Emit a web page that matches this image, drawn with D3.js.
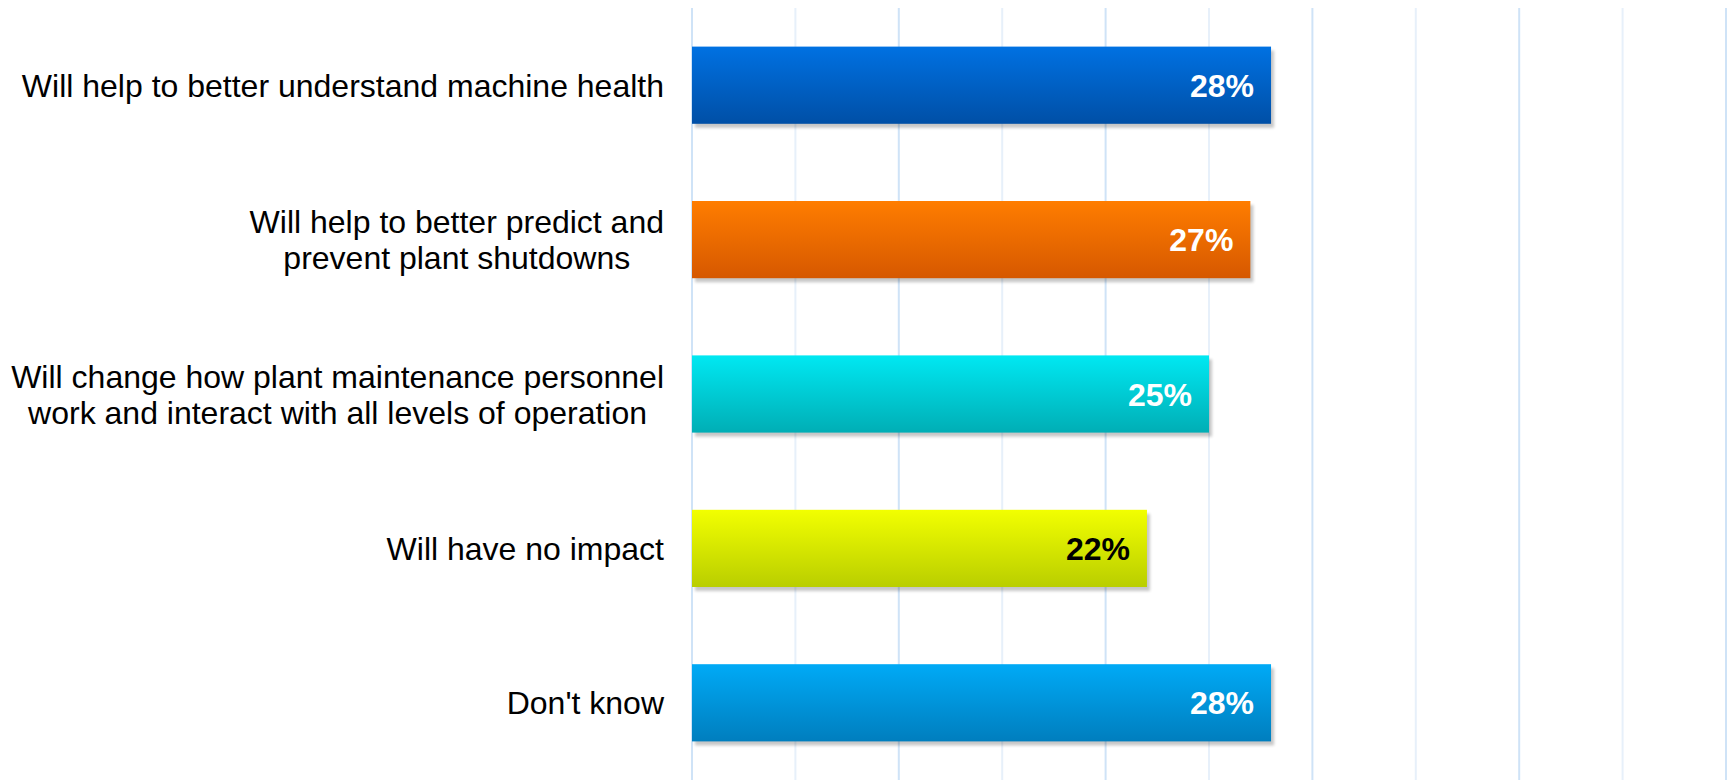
<!DOCTYPE html>
<html><head><meta charset="utf-8">
<script src="https://cdn.jsdelivr.net/npm/d3@7"></script>
<style>html,body{margin:0;padding:0;background:#fff;overflow:hidden}</style>
</head><body>
<svg id="chart" width="1727" height="780"></svg>
<script>
const categories = [
  ["Will help to better understand machine health"],
  ["Will help to better predict and", "prevent plant shutdowns"],
  ["Will change how plant maintenance personnel", "work and interact with all levels of operation"],
  ["Will have no impact"],
  ["Don't know"]
];
const values = [28, 27, 25, 22, 28];
const valueLabels = ["28%", "27%", "25%", "22%", "28%"];
const gridTicks = [0, 5, 10, 15, 20, 25, 30, 35, 40, 45, 50];
const barColors = [
  ["#0071E2", "#004FA6"],
  ["#FF7D00", "#D65800"],
  ["#00E8F2", "#00AEB5"],
  ["#F2FF00", "#B9CE00"],
  ["#00AAF6", "#007EBE"]
];
const labelColors = ["#fff", "#fff", "#fff", "#000", "#fff"];

const svg = d3.select("#chart");
const W = 1727, H = 780;
const x = d3.scaleLinear().domain([0, 50]).range([692, 1726]);
const y = d3.scaleBand().domain(d3.range(categories.length)).range([8, 780]).paddingInner(0.5).paddingOuter(0.25);

const defs = svg.append("defs");
barColors.forEach((c, i) => {
  const g = defs.append("linearGradient").attr("id", "g" + i).attr("x1", 0).attr("y1", 0).attr("x2", 0).attr("y2", 1);
  g.append("stop").attr("offset", "0%").attr("stop-color", c[0]);
  g.append("stop").attr("offset", "100%").attr("stop-color", c[1]);
});
const f = defs.append("filter").attr("id", "sh").attr("x", "-5%").attr("y", "-20%").attr("width", "110%").attr("height", "150%");
f.append("feGaussianBlur").attr("stdDeviation", 1.5);

// gridlines
svg.append("g").selectAll("line").data(gridTicks).join("line")
  .attr("x1", d => x(d)).attr("x2", d => x(d))
  .attr("y1", 8).attr("y2", H)
  .attr("stroke", (d, i) => i % 2 === 0 ? "#cfe3f7" : "#e7f0fa")
  .attr("stroke-width", 2);

// shadows
svg.append("g").selectAll("rect").data(values).join("rect")
  .attr("x", x(0) + 3).attr("y", (d, i) => y(i) + 4)
  .attr("width", d => x(d) - x(0)).attr("height", y.bandwidth())
  .attr("fill", "#000").attr("opacity", 0.22).attr("filter", "url(#sh)");

// bars
svg.append("g").selectAll("rect").data(values).join("rect")
  .attr("x", x(0)).attr("y", (d, i) => y(i))
  .attr("width", d => x(d) - x(0)).attr("height", y.bandwidth())
  .attr("fill", (d, i) => `url(#g${i})`);

// value labels
svg.append("g").selectAll("text").data(values).join("text")
  .attr("x", d => x(d) - 17).attr("y", (d, i) => y(i) + y.bandwidth() / 2)
  .attr("dy", "0.36em").attr("text-anchor", "end")
  .attr("font-family", "Liberation Sans, Arial, sans-serif").attr("font-weight", "bold")
  .attr("font-size", 32).attr("fill", (d, i) => labelColors[i])
  .text((d, i) => valueLabels[i]);

// category labels
const labelRight = 664, lineH = 36;
const lg = svg.append("g").attr("font-family", "Liberation Sans, Arial, sans-serif").attr("font-size", 32).attr("fill", "#000");
categories.forEach((lines, i) => {
  const cy = y(i) + y.bandwidth() / 2;
  const texts = lines.map((s, j) => lg.append("text")
    .attr("y", cy + (j - (lines.length - 1) / 2) * lineH)
    .attr("dy", "0.36em").attr("text-anchor", "middle").text(s));
  const maxW = d3.max(texts, t => t.node().getComputedTextLength());
  texts.forEach(t => t.attr("x", labelRight - maxW / 2));
});
</script>
</body></html>
